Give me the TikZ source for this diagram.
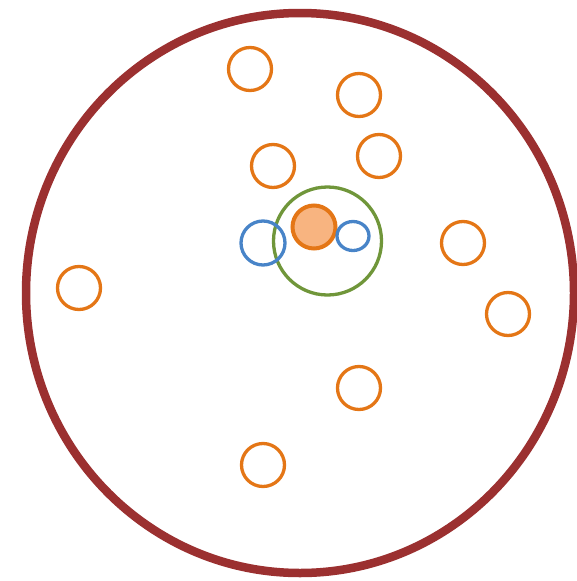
\documentclass[tikz,border=0pt]{standalone}
\usetikzlibrary{shapes.geometric}
\definecolor{rimred}{RGB}{155,48,48}
\definecolor{dotorange}{RGB}{228,118,22}
\definecolor{dotfill}{RGB}{248,180,128}
\definecolor{dotblue}{RGB}{72,132,200}
\definecolor{ringgreen}{RGB}{112,150,58}
\begin{document}
\begin{tikzpicture}[x=1pt, y=-1pt,
    rim/.style={ellipse, draw=rimred, line width=8.5pt, minimum width=548pt, minimum height=560pt, inner sep=0pt},
    dot/.style={circle, draw=dotorange, line width=3.3pt, minimum size=43pt, inner sep=0pt},
    bluedot/.style={circle, draw=dotblue, line width=3.3pt, minimum size=44pt, inner sep=0pt},
    ring/.style={circle, draw=ringgreen, line width=3.3pt, minimum size=108pt, inner sep=0pt}
]
\useasboundingbox (0,0) rectangle (576,581);

% Outer boundary
\node[rim] (rim) at (300,293) {};

% Scattered points
\node[dot] (p1) at (250,69) {};
\node[dot] (p2) at (359,95) {};
\node[dot] (p3) at (379,156) {};
\node[dot] (p4) at (273,166) {};
\node[dot] (p5) at (463,243) {};
\node[dot] (p6) at (508,314) {};
\node[dot] (p7) at (79,288) {};
\node[dot] (p8) at (359,388) {};
\node[dot] (p9) at (263,465) {};

% Centre cluster
\node[ring] (ring) at (327.5,241) {};
\node[dot, fill=dotfill, line width=4pt] (core) at (314,227) {};
\node[bluedot] (b1) at (263,243) {};
\node[bluedot, ellipse, minimum width=32pt, minimum height=29pt] (b2) at (353,236) {};

\end{tikzpicture}
\end{document}
